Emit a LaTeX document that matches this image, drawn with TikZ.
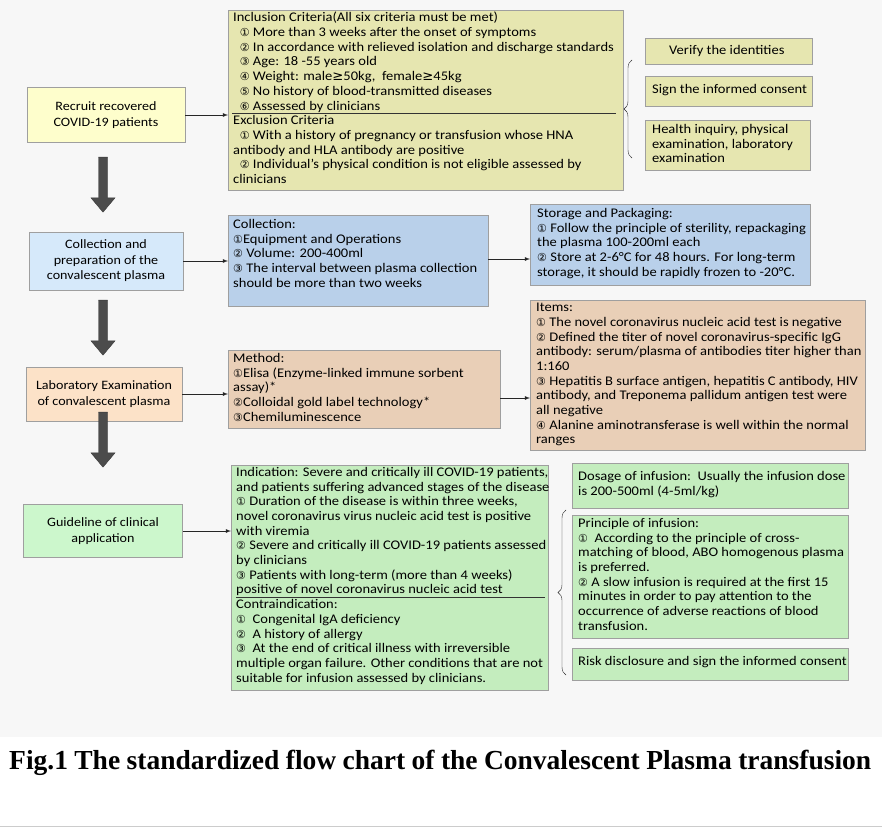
\documentclass[tikz,border=0pt]{standalone}
\usepackage{fontspec}
\setmainfont{Carlito}[FakeStretch=1.1]
\newfontfamily\symfont{DejaVu Sans}
\newfontfamily\capfont{Liberation Serif}
\usetikzlibrary{shapes.arrows, decorations.pathreplacing, shadows}
\newcommand{\cn}[1]{{\symfont\fontsize{11}{12}\selectfont #1}}

\tikzset{
  box/.style={draw=gray!75, anchor=north west, inner sep=0pt, drop shadow={opacity=0.25, shadow xshift=1pt, shadow yshift=-1pt}},
  txt/.style={anchor=north west, align=left, inner sep=0pt, font=\fontsize{13.2}{14.7}\selectfont},
  stage/.style={draw=gray!75, align=center, inner sep=2pt, font=\fontsize{12.8}{15.5}\selectfont},
  down/.style={single arrow, draw=gray!45!black, fill=gray!60!black, rotate=270, minimum height=55pt, minimum width=24pt, single arrow head extend=7pt, single arrow tip angle=80, inner sep=4pt},
  link/.style={-latex, thick, gray!30!black},
  brc/.style={decorate, decoration={brace, amplitude=8pt}, gray!30!black}
}
\definecolor{bgc}{HTML}{F7F7F7}
\definecolor{yelA}{HTML}{FEFECC}
\definecolor{yelB}{HTML}{E6E6B0}
\definecolor{bluA}{HTML}{D6E9FA}
\definecolor{bluB}{HTML}{B9D0EA}
\definecolor{orgA}{HTML}{FCE2C8}
\definecolor{orgB}{HTML}{E9CFB7}
\definecolor{grnA}{HTML}{CCF7CC}
\definecolor{grnB}{HTML}{C4EDBE}

\begin{document}
\begin{tikzpicture}[x=1pt, y=-1pt]
\useasboundingbox (0,0) rectangle (882,829);
\fill[bgc] (0,0) rectangle (882,737);
\draw[gray!40] (0,826) -- (882,826);

% left column
\node[stage, fill=yelA, minimum width=158pt, minimum height=55pt] (recruit) at (106,115) {Recruit recovered\\COVID-19 patients};
\node[stage, fill=bluA, minimum width=154pt, minimum height=58pt] (prep) at (106,261) {Collection and\\preparation of the\\convalescent plasma};
\node[stage, fill=orgA, minimum width=156pt, minimum height=54pt] (lab) at (104,394) {Laboratory Examination\\of convalescent plasma};
\node[stage, fill=grnA, minimum width=159pt, minimum height=53pt] (guide) at (103,531) {Guideline of clinical\\application};

\node[down] (d1) at (103,182) {};
\node[down] (d2) at (103,325) {};
\node[down] (d3) at (103,437) {};

% criteria
\node[box, fill=yelB, minimum width=395pt, minimum height=180pt] (crit) at (228,10) {};
\node[txt] at (233,12) {Inclusion Criteria(All six criteria must be met)\\
\ \ \cn{①} More than 3 weeks after the onset of symptoms\\
\ \ \cn{②} In accordance with relieved isolation and discharge standards\\
\ \ \cn{③} Age: 18 -55 years old\\
\ \ \cn{④} Weight: male{\symfont≥}50kg,\ \ female{\symfont≥}45kg\\
\ \ \cn{⑤} No history of blood-transmitted diseases\\
\ \ \cn{⑥} Assessed by clinicians\\
Exclusion Criteria\\
\ \ \cn{①} With a history of pregnancy or transfusion whose HNA\\
antibody and HLA antibody are positive\\
\ \ \cn{②} Individual's physical condition is not eligible assessed by\\
clinicians};
\draw[gray!40!black] (232,113) -- (616,113);

\node[box, fill=yelB, minimum width=167pt, minimum height=26pt] (verify) at (645,38) {};
\node[txt] at (669,45) {Verify the identities};
\node[box, fill=yelB, minimum width=167pt, minimum height=30pt] (sign) at (645,76) {};
\node[txt] at (652,84) {Sign the informed consent};
\node[box, fill=yelB, minimum width=165pt, minimum height=50pt] (health) at (645,120) {};
\node[txt] at (652,124) {Health inquiry, physical\\examination, laboratory\\examination};
\draw[brc] (632,158) -- (632,60);

% collection
\node[box, fill=bluB, minimum width=260pt, minimum height=91pt] (coll) at (228,215) {};
\node[txt] at (233,219) {Collection:\\
\cn{①}Equipment and Operations\\
\cn{②} Volume: 200-400ml\\
\cn{③} The interval between plasma collection\\
should be more than two weeks};
\node[box, fill=bluB, minimum width=280pt, minimum height=81pt] (store) at (530,204) {};
\node[txt] at (537,208) {Storage and Packaging:\\
\cn{①} Follow the principle of sterility, repackaging\\
the plasma 100-200ml each\\
\cn{②} Store at 2-6\textdegree C for 48 hours. For long-term\\
storage, it should be rapidly frozen to -20\textdegree C.};

% laboratory
\node[box, fill=orgB, minimum width=272pt, minimum height=78pt] (method) at (228,350) {};
\node[txt] at (233,353) {Method:\\
\cn{①}Elisa (Enzyme-linked immune sorbent\\
assay)*\\
\cn{②}Colloidal gold label technology*\\
\cn{③}Chemiluminescence};
\node[box, fill=orgB, minimum width=335pt, minimum height=150pt] (items) at (530,300) {};
\node[txt] at (536,303) {Items:\\
\cn{①} The novel coronavirus nucleic acid test is negative\\
\cn{②} Defined the titer of novel coronavirus-specific IgG\\
antibody: serum/plasma of antibodies titer higher than\\
1:160\\
\cn{③} Hepatitis B surface antigen, hepatitis C antibody, HIV\\
antibody, and Treponema pallidum antigen test were\\
all negative\\
\cn{④} Alanine aminotransferase is well within the normal\\
ranges};

% clinical
\node[box, fill=grnB, minimum width=317pt, minimum height=225pt] (indic) at (231,465) {};
\node[txt] at (236,467) {Indication: Severe and critically ill COVID-19 patients,\\
and patients suffering advanced stages of the disease\\
\cn{①} Duration of the disease is within three weeks,\\
novel coronavirus virus nucleic acid test is positive\\
with viremia\\
\cn{②} Severe and critically ill COVID-19 patients assessed\\
by clinicians\\
\cn{③} Patients with long-term (more than 4 weeks)\\
positive of novel coronavirus nucleic acid test\\
Contraindication:\\
\cn{①}\ \ Congenital IgA deficiency\\
\cn{②}\ \ A history of allergy\\
\cn{③}\ \ At the end of critical illness with irreversible\\
multiple organ failure. Other conditions that are not\\
suitable for infusion assessed by clinicians.};
\draw[gray!40!black] (236,597) -- (545,597);

\node[box, fill=grnB, minimum width=276pt, minimum height=45pt] (dose) at (572,463) {};
\node[txt] at (578,471) {Dosage of infusion:\ \ Usually the infusion dose\\is 200-500ml (4-5ml/kg)};
\node[box, fill=grnB, minimum width=276pt, minimum height=123pt] (princ) at (572,515) {};
\node[txt] at (578,518) {Principle of infusion:\\
\cn{①}\ \ According to the principle of cross-\\
matching of blood, ABO homogenous plasma\\
is preferred.\\
\cn{②} A slow infusion is required at the first 15\\
minutes in order to pay attention to the\\
occurrence of adverse reactions of blood\\
transfusion.};
\node[box, fill=grnB, minimum width=276pt, minimum height=32pt] (risk) at (572,648) {};
\node[txt] at (578,656) {Risk disclosure and sign the informed consent};
\draw[brc] (566,675) -- (566,510);

% connectors
\draw[link] (recruit.east) -- (crit.west |- recruit.east);
\draw[link] (prep.east) -- (coll.west |- prep.east);
\draw[link] (coll.east |- 0,259) -- (store.west |- 0,259);
\draw[link] (lab.east) -- (method.west |- lab.east);
\draw[link] (method.east |- 0,398) -- (items.west |- 0,398);
\draw[link] (guide.east) -- (indic.west |- guide.east);

% caption
\node[anchor=north west, font=\capfont\bfseries\fontsize{27.5}{43}\selectfont, text width=862pt, align=justify, inner sep=0pt] (cap) at (9,750) {Fig.1 The standardized flow chart of the Convalescent Plasma transfusion};
\end{tikzpicture}
\end{document}
